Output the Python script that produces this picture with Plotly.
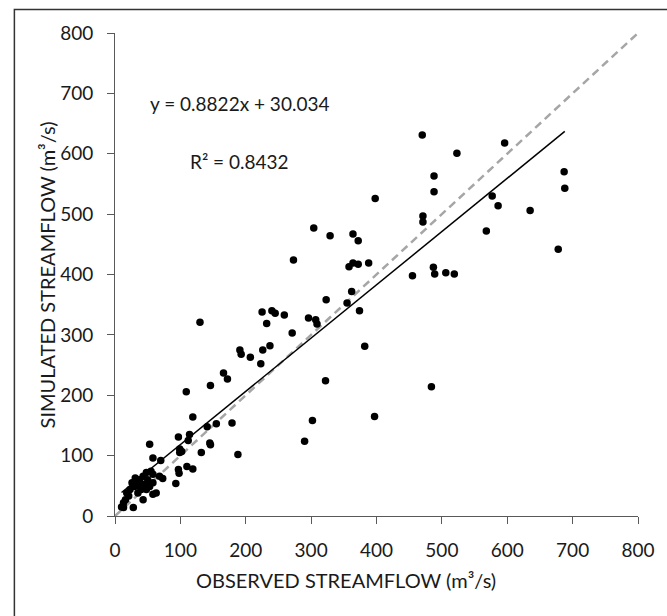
import plotly.graph_objects as go

# Observed vs simulated streamflow (m3/s)
observed = [10, 13, 28, 13, 16, 21, 18, 23, 30, 26,
            33, 31, 38, 38, 40, 45, 48, 35, 43, 53,
            58, 50, 43, 48, 55, 58, 68, 73, 58, 63,
            93, 98, 97, 110, 119, 70, 58, 53, 99, 99,
            102, 97, 112, 114, 132, 145, 146, 141, 155, 119,
            109, 146, 130, 179, 188, 166, 172, 191, 193, 207,
            223, 226, 237, 225, 240, 232, 245, 259, 273, 271,
            296, 307, 309, 304, 329, 323, 355, 362, 358, 364,
            372, 388, 364, 372, 374, 382, 322, 302, 290, 397,
            398, 455, 471, 471, 488, 488, 487, 489, 506, 519,
            484, 523, 596, 577, 586, 635, 568, 678, 687, 688, 470]
simulated = [15, 14, 14, 22, 27, 33, 38, 44, 49, 55,
             58, 63, 60, 49, 44, 52, 44, 38, 27, 49,
             55, 60, 66, 72, 74, 69, 66, 62, 36, 38,
             54, 71, 77, 82, 78, 92, 96, 119, 105, 111,
             107, 131, 125, 135, 105, 121, 118, 148, 153, 164,
             206, 216, 321, 154, 102, 237, 227, 275, 268, 263,
             252, 275, 282, 338, 340, 319, 336, 333, 424, 303,
             328, 325, 318, 477, 464, 358, 353, 372, 413, 419,
             417, 419, 467, 456, 340, 281, 224, 158, 124, 165,
             526, 398, 497, 487, 563, 537, 412, 401, 403, 401,
             214, 601, 618, 530, 514, 506, 472, 442, 570, 543, 631]

slope = 0.8822
intercept = 30.034
r_squared = 0.8432
one_to_one = [0, 800]
tick_values = [0, 100, 200, 300, 400, 500, 600, 700, 800]

FONT = "Lato"
TXT = "#1a1a1a"

fit_x = [min(observed), max(observed)]
fit_y = [slope * v + intercept for v in fit_x]

fig = go.Figure()
fig.add_trace(go.Scatter(x=one_to_one, y=one_to_one, mode="lines",
                         line=dict(color="#A6A6A6", width=2.5, dash="8px,5px"),
                         hoverinfo="skip", showlegend=False))
fig.add_trace(go.Scatter(x=observed, y=simulated, mode="markers",
                         marker=dict(color="black", size=7.5),
                         showlegend=False))
fig.add_trace(go.Scatter(x=fit_x, y=fit_y, mode="lines",
                         line=dict(color="black", width=1.5),
                         hoverinfo="skip", showlegend=False))

axis_common = dict(
    showgrid=False, zeroline=False, showline=True, linecolor="#595959", linewidth=1,
    ticks="outside", ticklen=7, tickcolor="#595959", tickwidth=1,
    tickfont=dict(family=FONT, size=19, color=TXT),
    tickvals=tick_values, ticklabelstandoff=10, ticklabeloverflow="allow",
)

fig.update_layout(
    width=667, height=616,
    margin=dict(l=115, r=14, t=33, b=100),
    paper_bgcolor="white", plot_bgcolor="white",
    xaxis=dict(range=[0, 800], **axis_common),
    yaxis=dict(range=[0, 800], **axis_common),
    showlegend=False,
    annotations=[
        dict(text=f"y = {slope}x + {intercept}", x=190, y=684, xref="x", yref="y",
             showarrow=False, font=dict(family=FONT, size=19, color=TXT)),
        dict(text=f"R² = {r_squared}", x=191, y=588, xref="x", yref="y",
             showarrow=False, font=dict(family=FONT, size=19, color=TXT)),
        dict(text="OBSERVED STREAMFLOW (m³/s)", x=(353 - 115) / 538, y=(516 - 580) / 483,
             xref="paper", yref="paper", showarrow=False, xanchor="center", yanchor="middle",
             font=dict(family=FONT, size=20, color=TXT)),
        dict(text="SIMULATED STREAMFLOW (m³/s)", x=(45 - 115) / 538, y=0.5,
             xref="paper", yref="paper", showarrow=False, textangle=-90,
             xanchor="center", yanchor="middle",
             font=dict(family=FONT, size=20, color=TXT)),
    ],
    shapes=[
        dict(type="rect", xref="paper", yref="paper",
             x0=(11.5 - 115) / 538, x1=(700 - 115) / 538,
             y0=(516 - 640) / 483, y1=(516 - 9.5) / 483,
             line=dict(color="#333333", width=1.5), layer="above"),
    ],
)

fig.write_html("out.html")
